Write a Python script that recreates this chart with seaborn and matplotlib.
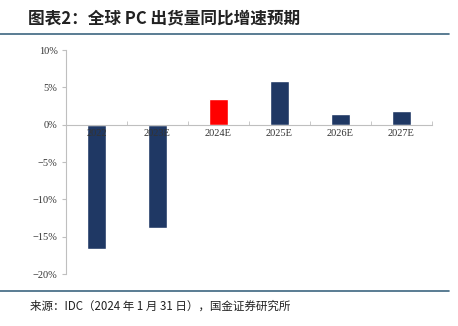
import matplotlib
matplotlib.use("Agg")
import matplotlib.pyplot as plt
import seaborn as sns
from matplotlib.lines import Line2D
from matplotlib.ticker import FuncFormatter, FixedLocator

categories = ["2022", "2023E", "2024E", "2025E", "2026E", "2027E"]
values = [-16.6, -13.8, 3.4, 5.9, 1.4, 1.8]
bar_colors = ["#1F3864", "#1F3864", "#FF0000", "#1F3864", "#1F3864", "#1F3864"]
yticks = [-20, -15, -10, -5, 0, 5, 10]
title = "图表2：全球 PC 出货量同比增速预期"
source = "来源：IDC（2024 年 1 月 31 日），国金证券研究所"

sns.set_style("white")
plt.rcParams['font.family'] = ['Noto Sans CJK SC', 'DejaVu Sans']

fig = plt.figure(figsize=(4.58, 3.26), dpi=100)
ax = fig.add_axes([66/458, 1-274/326, (432-66)/458, (274-50)/326])

sns.barplot(x=categories, y=values, hue=categories, palette=bar_colors,
            legend=False, width=0.31, ax=ax, saturation=1)
for p in ax.patches:
    p.set_zorder(1)

ax.set_ylim(-20, 10)
ax.set_xlim(-0.5, len(categories)-0.5)
ax.set_xlabel("")
ax.set_ylabel("")
ax.yaxis.set_major_locator(FixedLocator(yticks))
ax.yaxis.set_major_formatter(FuncFormatter(lambda v, p: f"{int(v)}%".replace("-", "−")))

for s in ["top", "right"]:
    ax.spines[s].set_visible(False)
ax.spines["left"].set_color("#BFBFBF")
ax.spines["bottom"].set_color("#BFBFBF")
ax.spines["bottom"].set_position(("data", 0))
ax.spines["bottom"].set_zorder(5)

ax.tick_params(axis="y", direction="out", length=3, color="#BFBFBF",
               labelsize=7.5, labelcolor="#333333", left=True, pad=3)
for lab in ax.get_yticklabels():
    lab.set_family("Liberation Serif")
ax.set_xticks(range(len(categories)))
ax.set_xticklabels(categories)
ax.set_xticks([i + 0.5 for i in range(len(categories))], minor=True)
ax.tick_params(axis="x", which="major", length=0, labelsize=7.5,
               labelcolor="#333333", pad=3)
ax.tick_params(axis="x", which="minor", direction="in", length=3,
               color="#BFBFBF", bottom=True)
for lab in ax.get_xticklabels():
    lab.set_family("Liberation Serif")
ax.xaxis.set_zorder(10)

fig.text(28/458, 1-18/326, title, fontsize=12, fontweight="bold",
         color="#222222", va="center", ha="left", style="italic")
fig.add_artist(Line2D([0, 449/458], [1-34/326, 1-34/326], color="#3D6680", lw=1.2))
fig.add_artist(Line2D([0, 449/458], [1-291/326, 1-291/326], color="#3D6680", lw=1.2))
fig.text(30/458, 1-306/326, source, fontsize=8.3, color="#222222",
         va="center", ha="left")

fig.savefig("out.png", dpi=100)
